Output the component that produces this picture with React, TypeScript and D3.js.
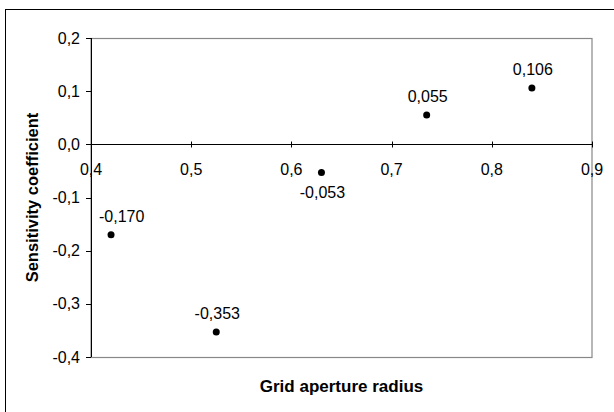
import React, { useEffect, useRef } from "react";
import * as d3 from "d3";

const radius = [0.42, 0.525, 0.63, 0.735, 0.84];
const sensitivity = [-0.17, -0.353, -0.053, 0.055, 0.106];
const pointLabels = ["-0,170", "-0,353", "-0,053", "0,055", "0,106"];
const labelBelow = [false, false, true, false, false];
const xTicks = [0.4, 0.5, 0.6, 0.7, 0.8, 0.9];
const yTicks = [0.2, 0.1, 0.0, -0.1, -0.2, -0.3, -0.4];

export default function App() {
  const ref = useRef<SVGSVGElement>(null);

  useEffect(() => {
    const svg = d3.select(ref.current);
    svg.selectAll("*").remove();

    const left = 91, right = 592, top = 38, bottom = 357;
    const x = d3.scaleLinear().domain([0.4, 0.9]).range([left, right]);
    const y = d3.scaleLinear().domain([-0.4, 0.2]).range([bottom, top]);
    const comma = (v: number, n: number) => v.toFixed(n).replace(".", ",");
    const font = "Liberation Sans, Arial, sans-serif";

    // outer chart frame
    svg.append("rect")
      .attr("x", 5.5).attr("y", 9.5)
      .attr("width", 620).attr("height", 420)
      .attr("fill", "white").attr("stroke", "black");

    // plot area box
    svg.append("rect")
      .attr("x", left).attr("y", top + 0.5)
      .attr("width", right - left).attr("height", bottom - top)
      .attr("fill", "white").attr("stroke", "#888").attr("stroke-width", 1.2);

    // y axis
    svg.append("line")
      .attr("x1", left + 0.5).attr("x2", left + 0.5)
      .attr("y1", top).attr("y2", bottom)
      .attr("stroke", "black");
    const yg = svg.append("g");
    yTicks.forEach((t) => {
      yg.append("line")
        .attr("x1", left - 5).attr("x2", left)
        .attr("y1", Math.round(y(t)) + 0.5).attr("y2", Math.round(y(t)) + 0.5)
        .attr("stroke", "black");
      yg.append("text")
        .attr("x", 80).attr("y", y(t) + 5.5)
        .attr("text-anchor", "end")
        .attr("font-family", font).attr("font-size", 16)
        .text(comma(t, 1));
    });

    // x axis at zero
    const y0 = Math.round(y(0)) + 0.5;
    svg.append("line")
      .attr("x1", left).attr("x2", right)
      .attr("y1", y0).attr("y2", y0)
      .attr("stroke", "black");
    const xg = svg.append("g");
    xTicks.forEach((t) => {
      xg.append("line")
        .attr("x1", Math.round(x(t)) + 0.5).attr("x2", Math.round(x(t)) + 0.5)
        .attr("y1", y0 - 3).attr("y2", y0 + 3)
        .attr("stroke", "black");
      xg.append("text")
        .attr("x", x(t)).attr("y", y0 + 30)
        .attr("text-anchor", "middle")
        .attr("font-family", font).attr("font-size", 16)
        .text(comma(t, 1));
    });

    // points
    svg.append("g").selectAll("circle")
      .data(radius)
      .join("circle")
      .attr("cx", (d) => x(d))
      .attr("cy", (d, i) => y(sensitivity[i]))
      .attr("r", 3.5)
      .attr("fill", "black");

    // value labels, nudged to stay inside the plot box
    svg.append("g").selectAll("text")
      .data(radius)
      .join("text")
      .attr("y", (d, i) => y(sensitivity[i]) + (labelBelow[i] ? 25 : -13))
      .attr("text-anchor", "middle")
      .attr("font-family", font).attr("font-size", 16)
      .text((d, i) => pointLabels[i])
      .attr("x", function (d) {
        const w = (this as SVGTextElement).getComputedTextLength();
        return Math.max(x(d) + 1, left + 8 + w / 2);
      });

    // axis titles
    svg.append("text")
      .attr("x", (left + right) / 2).attr("y", 392)
      .attr("text-anchor", "middle")
      .attr("font-family", font).attr("font-size", 17).attr("font-weight", "bold")
      .text("Grid aperture radius");
    svg.append("text")
      .attr("transform", `translate(38,${(top + bottom) / 2}) rotate(-90)`)
      .attr("text-anchor", "middle")
      .attr("font-family", font).attr("font-size", 16.5).attr("font-weight", "bold")
      .text("Sensitivity coefficient");
  });

  return (
    <svg
      ref={ref}
      width={614}
      height={412}
      style={{ position: "absolute", left: 0, top: 0 }}
    />
  );
}
